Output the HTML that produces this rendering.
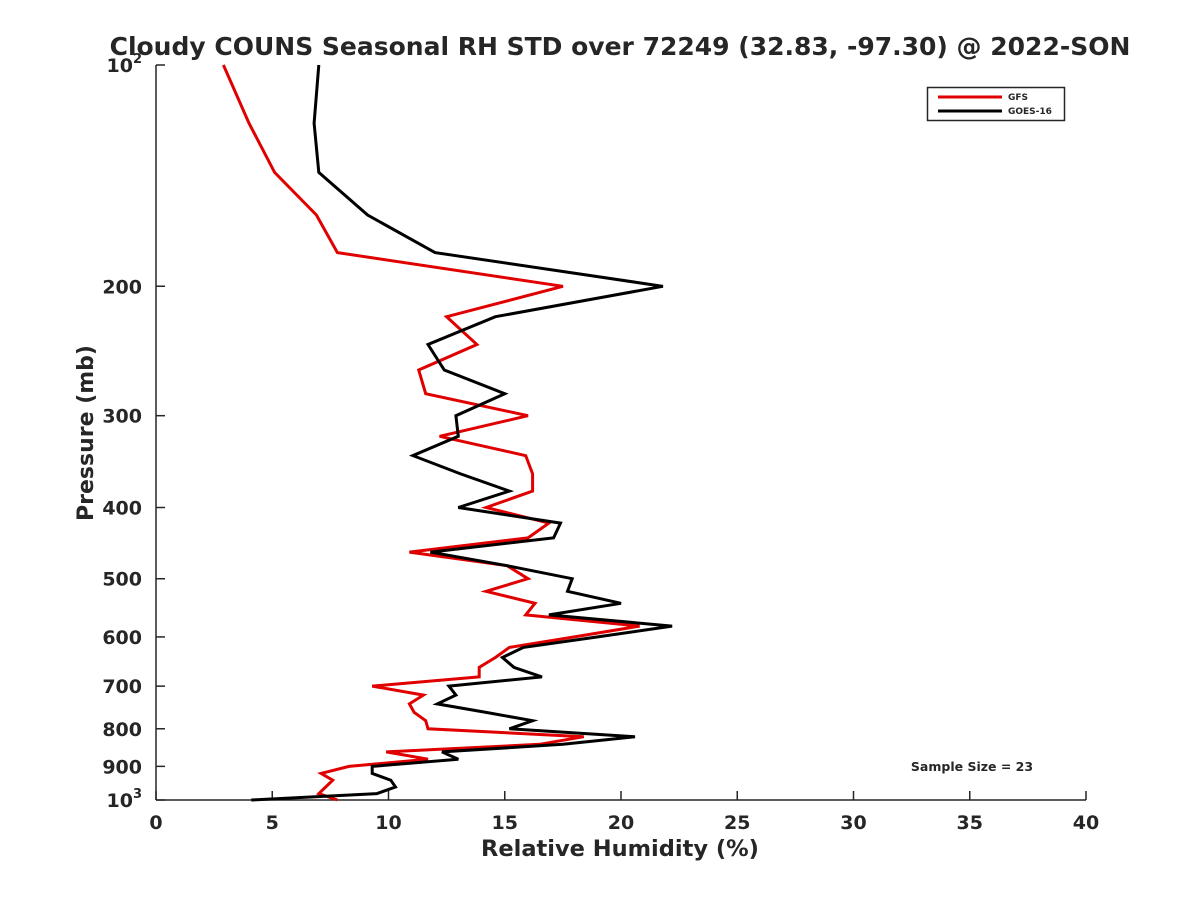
<!DOCTYPE html>
<html><head><meta charset="utf-8"><style>
html,body{margin:0;padding:0;background:#fff;}
svg text{font-family:"DejaVu Sans","Liberation Sans",sans-serif;font-weight:bold;fill:#262626;}
</style></head><body>
<svg id="chart" width="1200" height="900" xmlns="http://www.w3.org/2000/svg">
<rect width="1200" height="900" fill="#fff"/>
<text x="620" y="55" font-size="25" text-anchor="middle" fill="#000">Cloudy COUNS Seasonal RH STD over 72249 (32.83, -97.30) @ 2022-SON</text>
<g id="axes"></g>
<g id="series"></g>
<g>
<rect x="927.5" y="87.5" width="137" height="33" fill="#fff" stroke="#262626" stroke-width="1.5"/>
<line x1="938" y1="97" x2="1002" y2="97" stroke="#e00000" stroke-width="3"/>
<text x="1008" y="100" font-size="9" fill="#000">GFS</text>
<line x1="938" y1="111" x2="1002" y2="111" stroke="#000" stroke-width="3"/>
<text x="1008" y="114" font-size="9" fill="#000">GOES-16</text>
</g>
<text x="972" y="771" font-size="12.5" text-anchor="middle" fill="#000">Sample Size = 23</text>
<text x="620" y="856" font-size="22.5" text-anchor="middle">Relative Humidity (%)</text>
<text transform="translate(93,433) rotate(-90)" font-size="22" text-anchor="middle">Pressure (mb)</text>
</svg>
<script>
const pressureLevels = [100,120,140,160,180,200,220,240,260,280,300,320,340,360,380,400,420,440,460,480,500,520,540,560,580,600,620,640,660,680,700,720,740,760,780,800,820,840,860,880,900,920,940,960,980,1000];
const gfsRH = [2.9,4.0,5.1,6.9,7.8,17.5,12.5,13.8,11.3,11.6,16.0,12.2,15.9,16.2,16.2,14.2,16.9,16.0,10.9,15.1,16.0,14.2,16.3,15.9,20.8,18.0,15.2,14.6,13.9,13.9,9.3,11.5,10.9,11.1,11.6,11.7,18.4,16.5,9.9,11.7,8.3,7.1,7.6,7.3,7.0,7.8];
const goesRH = [7.0,6.8,7.0,9.1,12.0,21.8,14.6,11.7,12.4,15.0,12.9,13.0,11.05,13.1,15.2,13.0,17.4,17.1,11.8,15.1,17.9,17.7,20.0,16.9,22.2,19.0,15.8,14.9,15.4,16.6,12.6,12.9,12.1,14.2,16.2,15.2,20.6,17.5,12.3,13.0,9.3,9.3,10.1,10.3,9.5,4.1];
const xTicks = [0,5,10,15,20,25,30,35,40];
const yTicks = [100,200,300,400,500,600,700,800,900,1000];
const yTickLabels = ["10|2","200","300","400","500","600","700","800","900","10|3"];

const NS="http://www.w3.org/2000/svg";
const X0=156,X1=1086,Y0=65,Y1=800;
function xs(v){return X0+(v-0)/(40-0)*(X1-X0);}
function ys(p){return Y0+(Math.log10(p)-2)*(Y1-Y0);}
function mk(tag,attrs,parent){const e=document.createElementNS(NS,tag);for(const k in attrs)e.setAttribute(k,attrs[k]);parent.appendChild(e);return e;}
const axes=document.getElementById('axes');
const ya=mk('line',{x1:X0,y1:Y0,x2:X0,y2:Y1,stroke:'#262626','stroke-width':1.5},axes);


const xa=mk('line',{x1:X0,y1:Y1,x2:X1,y2:Y1,stroke:'#262626','stroke-width':1.5},axes);


xTicks.forEach(v=>{
  const t=mk('line',{x1:xs(v),y1:Y1,x2:xs(v),y2:Y1-9,stroke:'#262626','stroke-width':1.5},axes);
  
  
  const l=mk('text',{x:xs(v),y:Y1+29,'font-size':19,'text-anchor':'middle'},axes);
  l.textContent=v;
  
  
});
yTicks.forEach((p,i)=>{
  const t=mk('line',{x1:X0,y1:ys(p),x2:X0+9,y2:ys(p),stroke:'#262626','stroke-width':1.5},axes);
  
  
  const l=mk('text',{x:X0-14,y:ys(p)+7,'font-size':19,'text-anchor':'end'},axes);
  const parts=yTickLabels[i].split('|');
  if(parts.length===2){
    const a=mk('tspan',{},l);a.textContent=parts[0];
    const b=mk('tspan',{'font-size':13,dy:-9},l);b.textContent=parts[1];
  } else l.textContent=parts[0];
  
  
});
const series=document.getElementById('series');
function drawLine(vals,color,name){
  const pts=vals.map((v,i)=>xs(v).toFixed(1)+','+ys(pressureLevels[i]).toFixed(1)).join(' ');
  const pl=mk('polyline',{points:pts,fill:'none',stroke:color,'stroke-width':3,'stroke-linejoin':'miter'},series);
  
  
}
drawLine(gfsRH,'#e00000','gfs-line');
drawLine(goesRH,'#000000','goes16-line');
</script>
</body></html>
